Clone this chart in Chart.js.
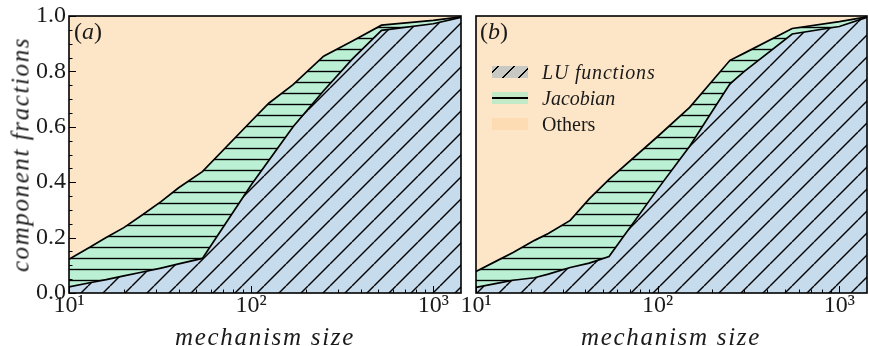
<!DOCTYPE html>
<html><head><meta charset="utf-8">
<script src="https://cdn.jsdelivr.net/npm/chart.js@4/dist/chart.umd.min.js"></script>
<style>
html,body{margin:0;padding:0;background:#fff;}
#wrap{position:relative;width:869px;height:346px;overflow:hidden;background:#fff;}
canvas{position:absolute;top:0;}
.t{position:absolute;font-family:"Liberation Serif";color:#1a1a1a;white-space:nowrap;}
.patch{position:absolute;left:492px;width:36px;height:12px;}
</style></head><body>
<div id="wrap">
<canvas id="ca" width="465" height="346" style="left:0px"></canvas>
<canvas id="cb" width="429" height="346" style="left:440px"></canvas>
<div class="t" style="left:74px;top:19px;font-size:24px;line-height:24px;">(<i>a</i>)</div>
<div class="t" style="left:480px;top:19px;font-size:24px;line-height:24px;">(<i>b</i>)</div>
<div class="t" style="left:115px;top:324px;width:300px;text-align:center;font-size:25px;line-height:25px;font-style:italic;letter-spacing:1.7px;">mechanism size</div>
<div class="t" style="left:521px;top:324px;width:300px;text-align:center;font-size:25px;line-height:25px;font-style:italic;letter-spacing:1.7px;">mechanism size</div>
<div class="t" style="left:-130px;top:142px;width:300px;height:25px;text-align:center;font-size:25px;line-height:25px;font-style:italic;letter-spacing:1.6px;transform:rotate(-90deg);transform-origin:50% 50%;">component fractions</div>
<div class="patch" style="top:66px;background-color:#c9c9c4;background-image:repeating-linear-gradient(135deg,transparent 0 4px,#000 4px 5.6px,transparent 5.6px 11.3px);"></div>
<div class="patch" style="top:92px;background-color:#c2eac6;background-image:linear-gradient(to bottom,transparent 0 5px,#000 5px 7px,transparent 7px 12px);"></div>
<div class="patch" style="top:118px;background-color:#fddcb4;"></div>
<div class="t" style="left:542px;top:62px;font-size:20px;line-height:20px;font-style:italic;letter-spacing:0.8px;">LU functions</div>
<div class="t" style="left:542px;top:88px;font-size:20px;line-height:20px;font-style:italic;">Jacobian</div>
<div class="t" style="left:542px;top:114px;font-size:20px;line-height:20px;">Others</div>
</div>
<script>
// ---- data ----
const xTickValues = [10, 100, 1000];
const xTickLabels = ['10\u00B9', '10\u00B2', '10\u00B3'];
const yTickValues = [0, 0.2, 0.4, 0.6, 0.8, 1.0];
const yTickLabels = ['0.0', '0.2', '0.4', '0.6', '0.8', '1.0'];

// panel (a)
const sizesA  = [10, 13, 16, 20, 25, 32, 40, 54, 100, 125, 170, 250, 360, 520, 1000, 1420];
const luA     = [0.022, 0.037, 0.048, 0.062, 0.075, 0.090, 0.105, 0.125, 0.390, 0.478, 0.600, 0.730, 0.845, 0.948, 0.972, 0.995];
const jacA    = [0.100, 0.128, 0.152, 0.174, 0.205, 0.240, 0.275, 0.313, 0.230, 0.207, 0.152, 0.125, 0.065, 0.019, 0.012, 0.002];
const othersA = [0.878, 0.835, 0.800, 0.764, 0.720, 0.670, 0.620, 0.562, 0.380, 0.315, 0.248, 0.145, 0.090, 0.033, 0.016, 0.003];

// panel (b)
const sizesB  = [10, 13, 16, 21, 25, 33, 42, 54, 100, 150, 250, 300, 550, 1000, 1420];
const luB     = [0.020, 0.035, 0.046, 0.055, 0.068, 0.092, 0.108, 0.132, 0.375, 0.530, 0.755, 0.800, 0.935, 0.962, 0.995];
const jacB    = [0.058, 0.081, 0.100, 0.135, 0.147, 0.170, 0.232, 0.278, 0.190, 0.140, 0.085, 0.066, 0.020, 0.018, 0.002];
const othersB = [0.922, 0.884, 0.854, 0.810, 0.785, 0.738, 0.660, 0.590, 0.435, 0.330, 0.160, 0.134, 0.045, 0.020, 0.003];

const COLORS = { lu: '#c6dcec', jac: '#bbf0d5', others: '#fde6c8' };
const FONT = '"Liberation Serif"';

function hatch(ctx, bg, kind) {
  const s = kind === 'diag' ? 22 : 11;
  const c = document.createElement('canvas');
  c.width = s; c.height = s;
  const g = c.getContext('2d');
  g.fillStyle = bg; g.fillRect(0, 0, s, s);
  g.strokeStyle = '#000'; g.lineWidth = 1.4;
  if (kind === 'diag') {
    for (const o of [-s, 0, s]) { g.beginPath(); g.moveTo(o, s); g.lineTo(o + s, 0); g.stroke(); }
  } else {
    g.beginPath(); g.moveTo(0, s / 2); g.lineTo(s, s / 2); g.stroke();
  }
  return ctx.createPattern(c, 'repeat');
}

const frameTicks = {
  id: 'frameTicks',
  afterDatasetsDraw(chart, args, opts) {
    const { ctx, chartArea: a, scales: { x, y } } = chart;
    ctx.save();
    ctx.strokeStyle = '#000';
    ctx.lineWidth = 1;
    for (let d = 10; d <= 1000; d *= 10) {
      for (let m = 1; m <= 9; m++) {
        const v = d * m;
        if (v < x.min || v > x.max) continue;
        const px = Math.round(x.getPixelForValue(v)) + 0.5;
        const L = m === 1 ? 7 : 3.5;
        ctx.beginPath(); ctx.moveTo(px, a.bottom); ctx.lineTo(px, a.bottom - L); ctx.stroke();
      }
    }
    if (opts.yTicks) {
      for (let k = 0; k <= 20; k++) {
        const v = k * 0.05;
        const py = Math.round(y.getPixelForValue(v)) + 0.5;
        const L = k % 4 === 0 ? 7 : 3.5;
        ctx.beginPath(); ctx.moveTo(a.left, py); ctx.lineTo(a.left + L, py); ctx.stroke();
      }
    }
    ctx.lineWidth = 1.6;
    ctx.strokeRect(a.left, a.top, a.right - a.left, a.bottom - a.top);
    ctx.restore();
  }
};

function makeChart(id, sizes, lu, jac, others, o) {
  const ctx = document.getElementById(id).getContext('2d');
  const pts = arr => sizes.map((s, i) => ({ x: s, y: arr[i] }));
  return new Chart(ctx, {
    type: 'line',
    data: {
      datasets: [
        { label: 'LU functions', data: pts(lu), fill: 'origin', backgroundColor: hatch(ctx, COLORS.lu, 'diag'),
          borderColor: '#000', borderWidth: 1.7, pointRadius: 0, tension: 0 },
        { label: 'Jacobian', data: pts(jac), fill: '-1', backgroundColor: hatch(ctx, COLORS.jac, 'horiz'),
          borderColor: '#000', borderWidth: 1.7, pointRadius: 0, tension: 0 },
        { label: 'Others', data: pts(others), fill: '-1', backgroundColor: COLORS.others,
          borderColor: 'rgba(0,0,0,0)', borderWidth: 0, pointRadius: 0, tension: 0 }
      ]
    },
    options: {
      responsive: false, animation: false, devicePixelRatio: 1,
      layout: { padding: { top: 16, right: o.padRight, left: 0, bottom: 0 } },
      plugins: { legend: { display: false }, tooltip: { enabled: false }, frameTicks: { yTicks: o.yLabels } },
      scales: {
        x: {
          type: 'logarithmic', min: 10, max: 1420,
          grid: { display: false, drawTicks: false }, border: { display: false },
          afterBuildTicks: s => { s.ticks = xTickValues.map(v => ({ value: v })); },
          afterFit: s => { s.height = 53; },
          ticks: { autoSkip: false, maxRotation: 0, padding: 1, color: '#1a1a1a',
            font: { family: FONT, size: 24, lineHeight: 1 },
            callback: v => { const i = xTickValues.indexOf(v); return i >= 0 ? xTickLabels[i] : ''; } }
        },
        y: {
          stacked: true, min: 0, max: 1,
          grid: { display: false, drawTicks: false }, border: { display: false },
          afterBuildTicks: s => { s.ticks = yTickValues.map(v => ({ value: v })); },
          afterFit: s => { s.width = o.yWidth; },
          ticks: { display: o.yLabels, padding: 3, color: '#1a1a1a',
            font: { family: FONT, size: 24, lineHeight: 1 },
            callback: v => { const i = yTickValues.findIndex(t => Math.abs(t - v) < 1e-9); return i >= 0 ? yTickLabels[i] : ''; } }
        }
      }
    },
    plugins: [frameTicks]
  });
}

makeChart('ca', sizesA, luA, jacA, othersA, { padRight: 4, yWidth: 69, yLabels: true });
makeChart('cb', sizesB, luB, jacB, othersB, { padRight: 2, yWidth: 36, yLabels: false });
</script>
</body></html>
